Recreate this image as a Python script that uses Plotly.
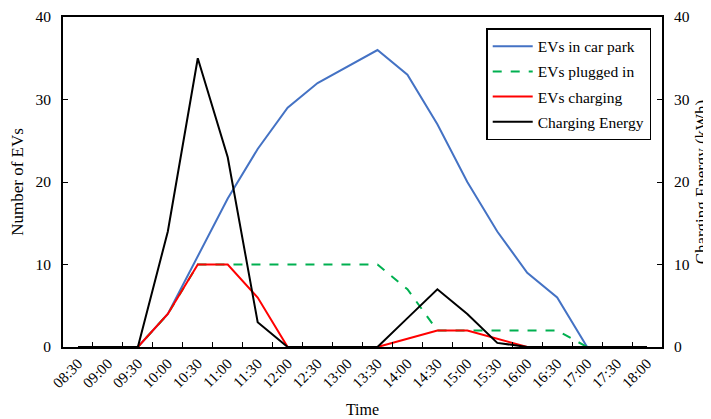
import plotly.graph_objects as go

times = ["08:30", "09:00", "09:30", "10:00", "10:30", "11:00", "11:30", "12:00", "12:30", "13:00",
         "13:30", "14:00", "14:30", "15:00", "15:30", "16:00", "16:30", "17:00", "17:30", "18:00"]
evs_in_park = [0, 0, 0, 4, 11, 18, 24, 29, 32, 34, 36, 33, 27, 20, 14, 9, 6, 0, 0, 0]
evs_plugged = [0, 0, 0, 4, 10, 10, 10, 10, 10, 10, 10, 7, 2, 2, 2, 2, 2, 0, 0, 0]
evs_charging = [0, 0, 0, 4, 10, 10, 6, 0, 0, 0, 0, 1, 2, 2, 1, 0, 0, 0, 0, 0]
charging_energy = [0, 0, 0, 14, 35, 23, 3, 0, 0, 0, 0, 3.5, 7, 4, 0.5, 0, 0, 0, 0, 0]

FONT = "Times New Roman"

fig = go.Figure()
fig.add_trace(go.Scatter(x=times, y=evs_in_park, name="EVs in car park", mode="lines",
                         line=dict(color="#4472C4", width=2), legendgroup="a"))
fig.add_trace(go.Scatter(x=times, y=evs_plugged, name="EVs plugged in", mode="lines",
                         line=dict(color="#00B050", width=2, dash="dash"), legendgroup="b"))
fig.add_trace(go.Scatter(x=times, y=evs_charging, name="EVs charging", mode="lines",
                         line=dict(color="#FF0000", width=2), legendgroup="c"))
fig.add_trace(go.Scatter(x=times, y=charging_energy, name="Charging Energy", mode="lines",
                         line=dict(color="#000000", width=2), yaxis="y2", legendgroup="d"))

fig.update_layout(
    width=703, height=411,
    margin=dict(l=55, r=49, t=9, b=72, autoexpand=False),
    paper_bgcolor="white", plot_bgcolor="white",
    font=dict(family=FONT, size=15, color="black"),
    showlegend=True,
    legend=dict(x=0.982, xanchor="right", y=0.966, yanchor="top",
                bordercolor="black", borderwidth=1.5, bgcolor="white",
                font=dict(family=FONT, size=15.5), tracegroupgap=2, itemwidth=40),
    xaxis=dict(type="category", tickson="boundaries", ticks="inside", ticklen=5,
               tickcolor="black", tickangle=-45, showline=True, linecolor="black",
               linewidth=2, mirror=True, showgrid=False, zeroline=False, automargin=False,
               title=dict(text="Time", font=dict(family=FONT, size=16), standoff=14),
               tickfont=dict(family=FONT, size=15), range=[-0.5, 19.5]),
    yaxis=dict(range=[0, 40], dtick=10, ticks="inside", ticklen=5, tickcolor="black",
               showline=True, linecolor="black", linewidth=2, showgrid=False, automargin=False,
               zeroline=False, title=dict(text="Number of EVs", font=dict(family=FONT, size=17), standoff=9),
               tickfont=dict(family=FONT, size=15.5), ticklabelstandoff=7),
    yaxis2=dict(range=[0, 40], dtick=10, overlaying="y", side="right", ticks="inside",
                ticklen=5, tickcolor="black", showline=True, linecolor="black", linewidth=2,
                showgrid=False, zeroline=False, automargin=False,
                title=dict(text="Charging Energy (kWh)", font=dict(family=FONT, size=17), standoff=11),
                tickfont=dict(family=FONT, size=15.5), ticklabelstandoff=7),
)

fig.write_html("out.html")
